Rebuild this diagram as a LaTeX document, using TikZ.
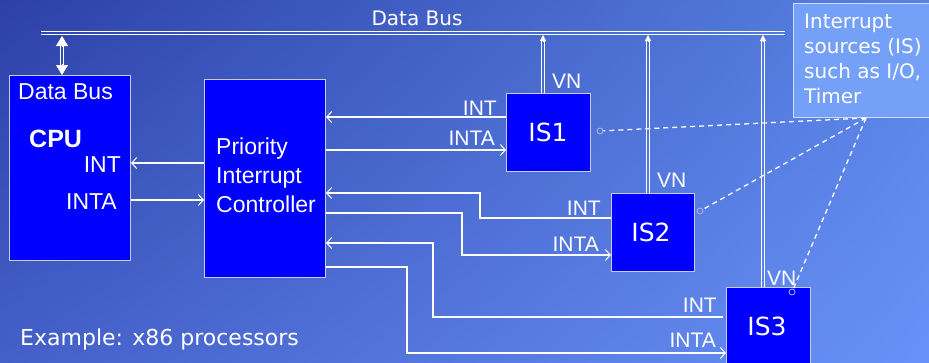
\documentclass[tikz,border=0pt]{standalone}
\usepackage{fontspec}
\setmainfont{Liberation Sans}
\newfontfamily\comic{DejaVu Sans}
\usetikzlibrary{arrows.meta,calc,shadings}
\definecolor{bgTL}{HTML}{2C40A8}
\definecolor{bgTR}{HTML}{5882E4}
\definecolor{bgBL}{HTML}{4460C8}
\definecolor{bgBR}{HTML}{6892F7}
\definecolor{boxblue}{HTML}{0000FF}
\definecolor{boxline}{HTML}{C8CCEE}
\definecolor{isfill}{HTML}{74A0F8}
\definecolor{isline}{HTML}{D0DCFF}
\definecolor{dotc}{HTML}{A8B8E8}
\tikzset{
  blk/.style={draw=boxline, fill=boxblue, line width=1pt, inner sep=0pt, anchor=north west},
  sig/.style={draw=white, line width=1.2pt},
  sigarr/.style={sig, -{Straight Barb[length=5pt,width=11pt,line width=1pt]}},
  wl/.style={draw=white, line width=1pt},
  lbl/.style={text=white, inner sep=0pt, font=\fontsize{21}{25}\selectfont},
  lblb/.style={text=white, inner sep=0pt, font=\fontsize{23}{28}\selectfont},
  clbl/.style={text=white, inner sep=0pt, font=\comic\fontsize{20}{25}\selectfont},
  dsh/.style={draw=white, line width=1.3pt, dash pattern=on 5pt off 4pt},
  dotn/.style={circle, draw=dotc, line width=0.8pt, minimum size=6pt, inner sep=0pt},
}
\begin{document}
\begin{tikzpicture}[x=1pt,y=-1pt]
\shade[upper left=bgTL, upper right=bgTR, lower left=bgBL, lower right=bgBR] (0,0) rectangle (929,362);
\useasboundingbox (0,0) rectangle (929,362);

% boxes
\node[blk, minimum width=121pt, minimum height=185pt] (cpu) at (9,75) {};
\node[blk, minimum width=121pt, minimum height=198pt] (pic) at (204,79) {};
\node[blk, minimum width=84pt, minimum height=78pt] (is1) at (506,93) {};
\node[blk, minimum width=83pt, minimum height=78pt] (is2) at (611,193) {};
\node[blk, minimum width=84pt, minimum height=80pt] (is3) at (726,287) {};
\node[draw=isline, fill=isfill, line width=1pt, inner sep=0pt, anchor=north west,
      minimum width=150pt, minimum height=114pt] (isbox) at (793,3) {};

% data bus
\coordinate (busL) at (41,32.5);
\coordinate (busR) at (785,32.5);
\draw[wl] ($(busL)+(0,-1.5)$) -- ($(busR)+(0,-1.5)$);
\draw[wl] ($(busL)+(0,1.5)$) -- ($(busR)+(0,1.5)$);
\node[clbl, anchor=base] (dbtop) at (417,25) {Data Bus};

% CPU <-> bus
\coordinate (cb) at (62,36);
\coordinate (ct) at (cpu.north -| cb);
\draw[wl] ($(cb)+(-1.5,10)$) -- ($(ct)+(-1.5,-10)$);
\draw[wl] ($(cb)+(1.5,10)$) -- ($(ct)+(1.5,-10)$);
\draw[white, line width=0.5pt, -{Triangle[length=10pt,width=12pt]}] ($(cb)+(0,11)$) -- (cb);
\draw[white, line width=0.5pt, -{Triangle[length=10pt,width=12pt]}] ($(ct)+(0,-11)$) -- (ct);

% VN double lines
\foreach \i/\x in {1/543, 2/648, 3/763} {
  \coordinate (b\i) at (\x,35);
  \draw[wl, line width=0.9pt] ($(is\i.north -| b\i)+(-1.6,0)$) -- ($(b\i)+(-1.6,5)$);
  \draw[wl, line width=0.9pt] ($(is\i.north -| b\i)+(1.6,0)$) -- ($(b\i)+(1.6,5)$);
  \draw[white, line width=0.4pt, -{Triangle[length=6pt,width=6pt]}] ($(b\i)+(0,7)$) -- (b\i);
}

% CPU text
\node[lblb, anchor=base west] (cdb) at (18,99) {Data Bus};
\node[text=white, inner sep=0pt, font=\bfseries\fontsize{25}{30}\selectfont, anchor=base west] (ccpu) at (29,147) {CPU};
\node[lblb, anchor=base east] (cint) at (121,172) {INT};
\node[lblb, anchor=base east] (cinta) at (117,209) {INTA};

% PIC text
\node[lblb, anchor=base west] (p1) at (216,154) {Priority};
\node[lblb, anchor=base west] (p2) at (216,183) {Interrupt};
\node[lblb, anchor=base west] (p3) at (216,212) {Controller};

% CPU <-> PIC
\draw[sigarr] (pic.west |- 0,163) -- (cpu.east |- 0,163);
\draw[sigarr] (cpu.east |- 0,200) -- (pic.west |- 0,200);

% IS1
\draw[sigarr] (is1.west |- 0,117) -- (pic.east |- 0,117);
\draw[sigarr] (pic.east |- 0,150) -- (is1.west |- 0,150);
% IS2
\draw[sigarr] (is2.west |- 0,218) -- (480,218) |- (pic.east |- 0,193);
\draw[sigarr] (pic.east |- 0,213) -| (462,255) -- (is2.west |- 0,255);
% IS3
\draw[sigarr, shorten <=3pt] (is3.west |- 0,317) -- (433,317) |- (pic.east |- 0,243);
\draw[sigarr] (pic.east |- 0,267) -| (407,353) -- (is3.west |- 0,353);

% labels
\node[lbl, anchor=base east] (l1a) at (497,115) {INT};
\node[lbl, anchor=base east] (l1b) at (495,145) {INTA};
\node[lbl, anchor=base west] (v1) at (552,88) {VN};
\node[lbl, anchor=base east] (l2a) at (601,215) {INT};
\node[lbl, anchor=base east] (l2b) at (599,251) {INTA};
\node[lbl, anchor=base west] (v2) at (657,187) {VN};
\node[lbl, anchor=base east] (l3a) at (717,312) {INT};
\node[lbl, anchor=base east] (l3b) at (716,347) {INTA};
\node[lbl, anchor=base west] (v3) at (767,285) {VN};

% IS labels
\node[text=white, inner sep=0pt, font=\comic\fontsize{25}{28}\selectfont] (t1) at (548,132) {IS1};
\node[text=white, inner sep=0pt, font=\comic\fontsize{25}{28}\selectfont] (t2) at (651,232) {IS2};
\node[text=white, inner sep=0pt, font=\comic\fontsize{25}{28}\selectfont] (t3) at (767,326) {IS3};

% interrupt sources text
\node[clbl, anchor=base west] (s1) at (804,28) {Interrupt};
\node[clbl, anchor=base west] (s2) at (804,53) {sources (IS)};
\node[clbl, anchor=base west] (s3) at (804,78) {such as I/O,};
\node[clbl, anchor=base west] (s4) at (804,103) {Timer};

% dashed pointers
\coordinate (hub) at (866,118);
\node[dotn] (c1) at (600,131) {};
\node[dotn] (c2) at (700,211) {};
\node[dotn] (c3) at (792,292) {};
\draw[dsh] (hub) -- (c1);
\draw[dsh] (hub) -- (c2);
\draw[dsh] (hub) -- (c3);

% example
\node[text=white, inner sep=0pt, font=\comic\fontsize{22}{26}\selectfont, anchor=base west] (ex) at (20,345) {Example: x86 processors};
\end{tikzpicture}
\end{document}
